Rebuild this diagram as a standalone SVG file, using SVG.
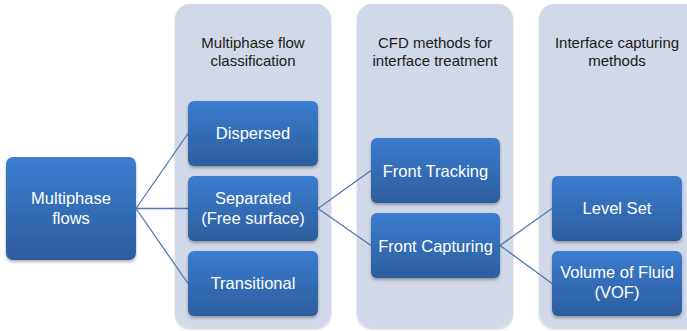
<svg xmlns="http://www.w3.org/2000/svg" width="687" height="331" viewBox="0 0 687 331">
  <defs>
    <linearGradient id="boxFill" x1="0" y1="0" x2="0" y2="1">
      <stop offset="0" stop-color="#3b7dcf"/>
      <stop offset="1" stop-color="#2c5d9d"/>
    </linearGradient>
    <filter id="shadow" x="-10%" y="-10%" width="120%" height="130%">
      <feDropShadow dx="0" dy="2" stdDeviation="1.5" flood-color="#000" flood-opacity="0.3"/>
    </filter>
    <filter id="panelShadow" x="-10%" y="-5%" width="120%" height="110%">
      <feDropShadow dx="0" dy="1.5" stdDeviation="1.2" flood-color="#000" flood-opacity="0.18"/>
    </filter>
  </defs>
  <style>
    .panel { fill: #d1d8e7; filter: url(#panelShadow); }
    .box { fill: url(#boxFill); filter: url(#shadow); }
    .head { font-family: "Liberation Sans", Arial, sans-serif; font-size: 15px; fill: #1a1a1a; text-anchor: middle; }
    .label { font-family: "Liberation Sans", Arial, sans-serif; font-size: 16.5px; fill: #ffffff; text-anchor: middle; }
    .link { stroke: #4f79b4; stroke-width: 1.3; fill: none; }
  </style>

  <!-- background columns -->
  <g id="col-classification">
    <rect class="panel" x="175" y="4" width="156" height="324" rx="15"/>
    <text class="head" x="253" y="48">Multiphase flow</text>
    <text class="head" x="253" y="65.5">classification</text>
  </g>
  <g id="col-cfd-methods">
    <rect class="panel" x="357" y="4" width="156" height="324" rx="15"/>
    <text class="head" x="435" y="48">CFD methods for</text>
    <text class="head" x="435" y="65.5">interface treatment</text>
  </g>
  <g id="col-capturing">
    <rect class="panel" x="539" y="4" width="170" height="324" rx="15"/>
    <text class="head" x="617" y="48">Interface capturing</text>
    <text class="head" x="617" y="65.5">methods</text>
  </g>

  <!-- connectors -->
  <g id="connectors">
    <line class="link" x1="136" y1="208.5" x2="188" y2="133.5"/>
    <line class="link" x1="136" y1="208.5" x2="188" y2="208.5"/>
    <line class="link" x1="136" y1="208.5" x2="188" y2="283.5"/>
    <line class="link" x1="318" y1="208.5" x2="371" y2="170.5"/>
    <line class="link" x1="318" y1="208.5" x2="371" y2="245.5"/>
    <line class="link" x1="500" y1="245.5" x2="552" y2="208.5"/>
    <line class="link" x1="500" y1="245.5" x2="552" y2="283.5"/>
  </g>

  <!-- nodes -->
  <g id="multiphase-flows">
    <rect class="box" x="6" y="157" width="130" height="103" rx="7"/>
    <text class="label" x="71" y="204">Multiphase</text>
    <text class="label" x="71" y="224">flows</text>
  </g>
  <g id="dispersed">
    <rect class="box" x="188" y="101" width="130" height="65" rx="6"/>
    <text class="label" x="253" y="139">Dispersed</text>
  </g>
  <g id="separated">
    <rect class="box" x="188" y="176" width="130" height="65" rx="6"/>
    <text class="label" x="253" y="204">Separated</text>
    <text class="label" x="253" y="224">(Free surface)</text>
  </g>
  <g id="transitional">
    <rect class="box" x="188" y="251" width="130" height="65" rx="6"/>
    <text class="label" x="253" y="289">Transitional</text>
  </g>
  <g id="front-tracking">
    <rect class="box" x="371" y="138" width="129" height="65" rx="6"/>
    <text class="label" x="435.5" y="176.5">Front Tracking</text>
  </g>
  <g id="front-capturing">
    <rect class="box" x="371" y="213" width="129" height="65" rx="6"/>
    <text class="label" x="435.5" y="251.5">Front Capturing</text>
  </g>
  <g id="level-set">
    <rect class="box" x="552" y="176" width="130" height="65" rx="6"/>
    <text class="label" x="617" y="214">Level Set</text>
  </g>
  <g id="volume-of-fluid">
    <rect class="box" x="552" y="251" width="130" height="65" rx="6"/>
    <text class="label" x="617" y="278">Volume of Fluid</text>
    <text class="label" x="617" y="298">(VOF)</text>
  </g>
</svg>
